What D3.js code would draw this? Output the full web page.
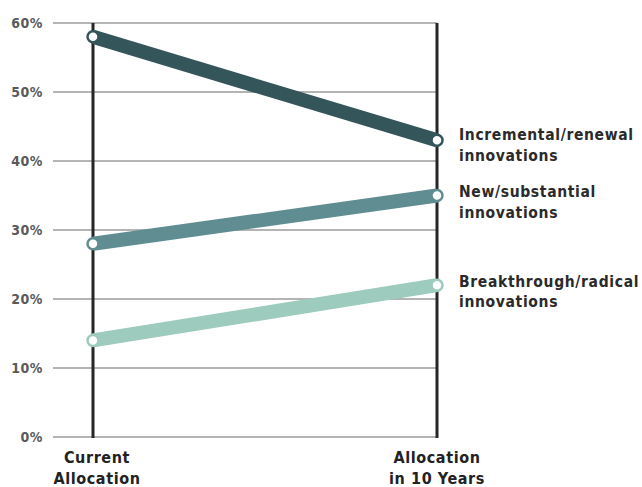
<!DOCTYPE html>
<html><head><meta charset="utf-8">
<script src="https://cdn.jsdelivr.net/npm/d3@7"></script>
<style>body{margin:0;background:#fff}svg{display:block}</style>
</head><body>
<svg id="c" width="642" height="487"></svg>
<script>
const periods = ["Current", "In10"];
const periodLabels = [["Current","Allocation"],["Allocation","in 10 Years"]];
const seriesNames = [["Incremental/renewal","innovations"],["New/substantial","innovations"],["Breakthrough/radical","innovations"]];
const currentValues = [58, 28, 14];
const futureValues = [43, 35, 22];
const seriesColors = ["#34555a", "#5f8d92", "#9dcbbd"];
const yTicks = [0,10,20,30,40,50,60];

const svg = d3.select("#c");
const x = d3.scalePoint().domain(periods).range([93, 437]);
const y = d3.scaleLinear().domain([0, 60]).range([437, 23]);
const font = "'DejaVu Sans Condensed', 'DejaVu Sans', sans-serif";

// gridlines
svg.append("g").selectAll("line").data(yTicks).join("line")
  .attr("x1", 53).attr("x2", 437)
  .attr("y1", d => y(d)).attr("y2", d => y(d))
  .attr("stroke", "#b4b4b4").attr("stroke-width", 2);

// tick labels
svg.append("g").selectAll("text").data(yTicks).join("text")
  .attr("x", 43).attr("y", d => y(d) + 5)
  .attr("text-anchor", "end")
  .attr("font-family", font).attr("font-size", 14).attr("font-weight", "bold")
  .attr("letter-spacing", 0.5)
  .attr("fill", "#5a5a5a")
  .text(d => d + "%");

// vertical axes
svg.append("g").selectAll("line").data(periods).join("line")
  .attr("x1", d => x(d)).attr("x2", d => x(d))
  .attr("y1", y(60)).attr("y2", y(0) + 1)
  .attr("stroke", "#262626").attr("stroke-width", 3);

const data = seriesNames.map((n, i) => ({name: n, vals: [currentValues[i], futureValues[i]], color: seriesColors[i]}));

// lines
svg.append("g").selectAll("line").data(data).join("line")
  .attr("x1", x(periods[0])).attr("x2", x(periods[1]))
  .attr("y1", d => y(d.vals[0])).attr("y2", d => y(d.vals[1]))
  .attr("stroke", d => d.color).attr("stroke-width", 14);

// markers
data.forEach(d => {
  svg.append("g").selectAll("circle").data(d.vals).join("circle")
    .attr("cx", (v, j) => x(periods[j])).attr("cy", v => y(v))
    .attr("r", 5.5).attr("fill", "#fff")
    .attr("stroke", d.color).attr("stroke-width", 2.5);
});

// series labels
const labelY = [[140, 161], [197, 218], [287, 307]];
data.forEach((d, i) => {
  d.name.forEach((t, k) => {
    svg.append("text").attr("x", 459).attr("y", labelY[i][k])
      .attr("font-family", font).attr("font-size", 15.5).attr("font-weight", "bold")
      .attr("letter-spacing", 0.65)
      .attr("fill", "#2a2a2a").text(t);
  });
});

// category labels
const catX = [97, 437];
periodLabels.forEach((lines, i) => {
  lines.forEach((t, k) => {
    svg.append("text").attr("x", catX[i]).attr("y", 463 + k * 21)
      .attr("text-anchor", "middle")
      .attr("font-family", font).attr("font-size", 16).attr("font-weight", "bold")
      .attr("letter-spacing", 0.6)
      .attr("fill", "#222").text(t);
  });
});
</script>
</body></html>
